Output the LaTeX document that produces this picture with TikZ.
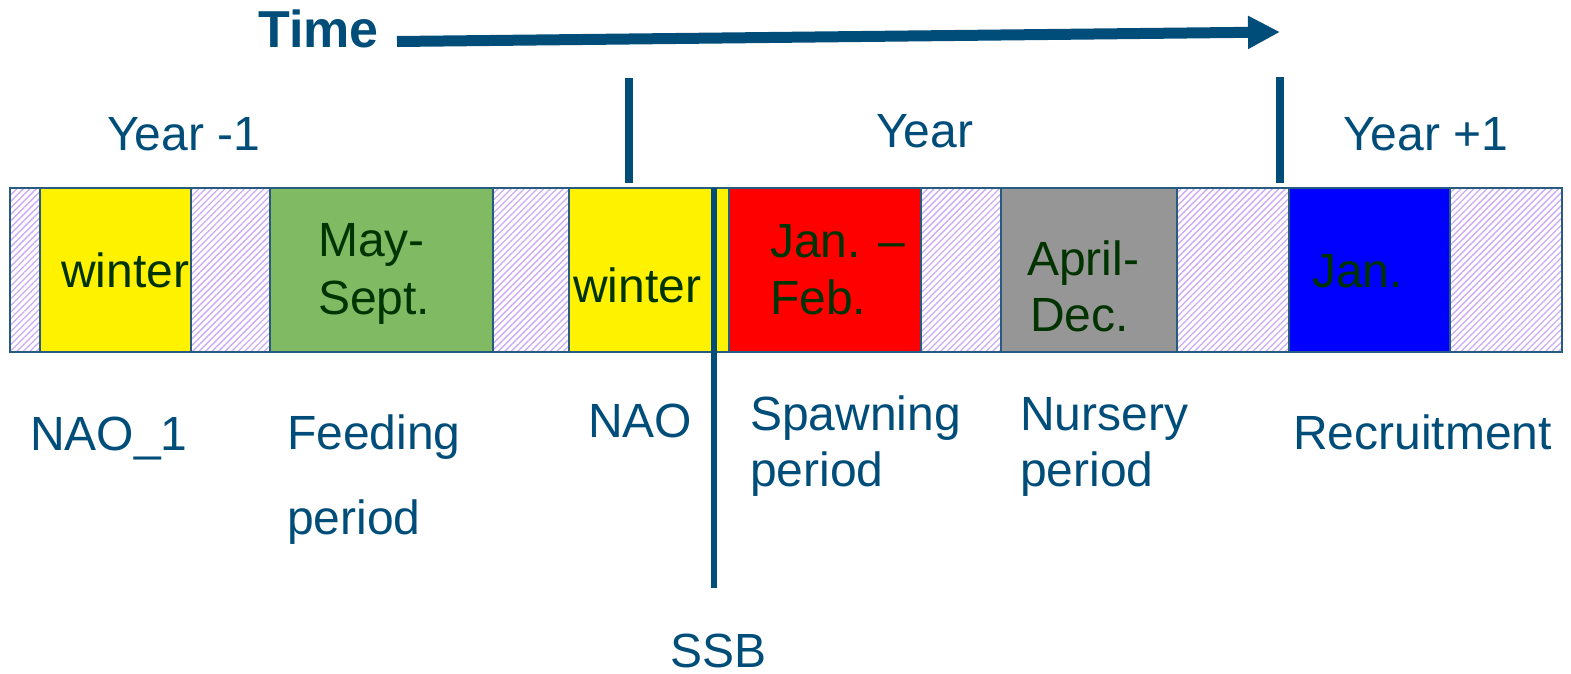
\documentclass[tikz,border=0pt]{standalone}
\usepackage{fontspec}
\setmainfont{Liberation Sans}
\usetikzlibrary{arrows.meta,patterns.meta}
\definecolor{lblue}{RGB}{0,77,122}
\definecolor{dgreen}{RGB}{0,51,0}
\definecolor{edge}{RGB}{38,92,130}
\definecolor{hatchc}{RGB}{205,170,245}
\definecolor{fgreen}{RGB}{128,186,98}
\definecolor{fgray}{RGB}{150,150,150}
\tikzset{
  lbl/.style={anchor=base west,inner sep=0pt,text=lblue,font=\fontsize{48}{57}\selectfont},
  intxt/.style={anchor=base west,inner sep=0pt,text=dgreen,font=\fontsize{48}{57}\selectfont},
  seg/.style={draw=edge,line width=1.5pt},
  hatchseg/.style={seg,pattern={Lines[angle=45,distance=4.6pt,line width=1.3pt]},pattern color=hatchc},
  marker/.style={draw=lblue,line width=7.5pt},
}
\begin{document}
\begin{tikzpicture}[x=1pt,y=-1pt]
\useasboundingbox (0,0) rectangle (1571,674);
% segments
\path[hatchseg] (10,188) rectangle (40,352);
\path[seg,fill=yellow] (40,188) rectangle (191,352);
\path[hatchseg] (191,188) rectangle (270,352);
\path[seg,fill=fgreen] (270,188) rectangle (493,352);
\path[hatchseg] (493,188) rectangle (569,352);
\path[seg,fill=yellow] (569,188) rectangle (729,352);
\path[seg,fill=red] (729,188) rectangle (921,352);
\path[hatchseg] (921,188) rectangle (1001,352);
\path[seg,fill=fgray] (1001,188) rectangle (1177,352);
\path[hatchseg] (1177,188) rectangle (1289,352);
\path[seg,fill=blue] (1289,188) rectangle (1450,352);
\path[hatchseg] (1450,188) rectangle (1562,352);
\draw[draw=edge,line width=2.2pt] (10,188) rectangle (1562,352);
% markers
\coordinate (m1t) at (629,78);
\coordinate (m1b) at (629,183);
\coordinate (m2t) at (1280,77);
\coordinate (m2b) at (1280,183);
\draw[marker] (m1t) -- (m1b);
\draw[marker] (m2t) -- (m2b);
\coordinate (ssbt) at (714,188);
\coordinate (ssbb) at (714,588);
\draw[draw=lblue,line width=5.5pt] (ssbt) -- (ssbb);
% time arrow
\node[anchor=base west,inner sep=0pt,text=lblue,font=\fontsize{52}{60}\selectfont\bfseries] (time) at (258,48) {Time};
\coordinate (tstart) at (397,41.5);
\coordinate (tend) at (1280,32);
\draw[draw=lblue,line width=11pt,-{Triangle[length=32pt,width=31pt]}] (tstart) -- (tend);
% year labels
\node[lbl] (ym1) at (107,150) {Year -1};
\node[lbl] (y0) at (876,148) {Year};
\node[lbl] (yp1) at (1343,150) {Year +1};
% in-box texts
\node[intxt] (w1) at (61,287) {winter};
\node[intxt] (may) at (318,256) {May-};
\node[intxt] (sept) at (318,314) {Sept.};
\node[intxt] (w2) at (573,302) {winter};
\node[intxt] (jan) at (770,257) {Jan. –};
\node[intxt] (feb) at (770,314) {Feb.};
\node[intxt] (apr) at (1027,275) {April-};
\node[intxt] (dec) at (1030,331) {Dec.};
\node[intxt] (jan2) at (1312,287) {Jan.};
% bottom labels
\node[lbl] (nao1) at (30,450) {NAO\_1};
\node[lbl] (feed) at (287,449) {Feeding};
\node[lbl] (feedp) at (287,534) {period};
\node[lbl] (nao) at (588,437) {NAO};
\node[lbl] (spawn) at (750,430) {Spawning};
\node[lbl] (spawnp) at (750,486) {period};
\node[lbl] (nurs) at (1020,430) {Nursery};
\node[lbl] (nursp) at (1020,486) {period};
\node[lbl] (recr) at (1293,449) {Recruitment};
\node[lbl] (ssb) at (670,667) {SSB};
\end{tikzpicture}
\end{document}
